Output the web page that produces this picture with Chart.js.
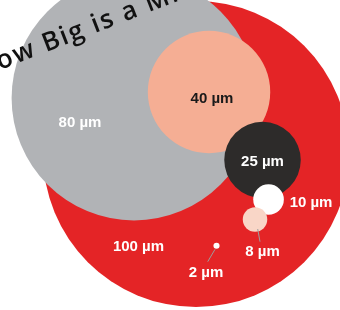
<!DOCTYPE html>
<html>
<head>
<meta charset="utf-8">
<script src="https://cdn.jsdelivr.net/npm/chart.js@4"></script>
<style>
    body { margin: 0; background: #fff; }
    #wrap { width: 340px; height: 310px; position: relative; }
</style>
</head>
<body>
<div id="wrap"><canvas id="sizeChart"></canvas></div>
<script>
// sizes in micrometres, centres also in micrometres
const labels = ['100 µm', '80 µm', '40 µm', '25 µm', '10 µm', '8 µm', '2 µm'];
const sizes = [100, 80, 40, 25, 10, 8, 2];
const centreX = [64.05, 43.79, 68.30, 85.78, 87.75, 83.33, 70.75];
const centreY = [50.33, 32.03, 30.07, 52.29, 65.20, 71.73, 80.29];
const colors = ['#e42426', '#b1b3b6', '#f5ae94', '#2d2b2a', '#ffffff', '#f9d6c7', '#ffffff'];
const titleText = 'How Big is a Micron?';

// label placement relative to bubble centre (px)
const labelOffset = [[-57.5, 92], [-54, 24], [3, 6], [0, 1], [42.5, 2.5], [7.5, 31.5], [-10.5, 26.3]];
const labelColor = ['#fff', '#fff', '#1a1a1a', '#fff', '#fff', '#fff', '#fff'];
const leaders = { 5: [[2.7, 9.5], [5, 22.2]], 6: [[-1.5, 3.6], [-8.8, 16]] };

const points = sizes.map((s, i) => ({ x: centreX[i], y: centreY[i], r: 1 }));

const labelPlugin = {
    id: 'bubbleLabels',
    afterDatasetsDraw(chart) {
        const ctx = chart.ctx;
        const meta = chart.getDatasetMeta(0);
        ctx.save();
        ctx.strokeStyle = '#9d9d9d';
        ctx.lineWidth = 1;
        for (const k in leaders) {
            const el = meta.data[k];
            const [a, b] = leaders[k];
            ctx.beginPath();
            ctx.moveTo(el.x + a[0], el.y + a[1]);
            ctx.lineTo(el.x + b[0], el.y + b[1]);
            ctx.stroke();
        }
        ctx.font = 'bold 15px "Liberation Sans", Arial, sans-serif';
        ctx.textAlign = 'center';
        ctx.textBaseline = 'alphabetic';
        meta.data.forEach((el, i) => {
            ctx.fillStyle = labelColor[i];
            ctx.fillText(labels[i], el.x + labelOffset[i][0], el.y + labelOffset[i][1] + 5.4);
        });
        ctx.restore();
    },
    afterDraw(chart) {
        // tilted title, drawn letter by letter
        const ctx = chart.ctx;
        const ang = -21.2 * Math.PI / 180;
        const dx = Math.cos(ang), dy = Math.sin(ang);
        const spacing = 1.8;
        ctx.save();
        ctx.font = '600 26px "Open Sans", sans-serif';
        ctx.fillStyle = '#111';
        ctx.textBaseline = 'alphabetic';
        ctx.textAlign = 'left';
        const back = ctx.measureText('H').width + spacing;
        let px = 0 - back * dx, py = 70 - back * dy;
        for (const ch of titleText) {
            ctx.save();
            ctx.translate(px, py);
            ctx.rotate(ang);
            ctx.fillText(ch, 0, 0);
            ctx.restore();
            const w = ctx.measureText(ch).width + spacing;
            px += w * dx;
            py += w * dy;
        }
        ctx.restore();
    }
};

const chart = new Chart(document.getElementById('sizeChart'), {
    type: 'bubble',
    data: {
        datasets: [{
            data: points,
            backgroundColor: colors,
            borderWidth: 0,
            hoverBorderWidth: 0,
            clip: false
        }]
    },
    options: {
        responsive: true,
        maintainAspectRatio: false,
        animation: false,
        events: [],
        layout: { padding: 0, autoPadding: false },
        scales: {
            x: { type: 'linear', min: 0, max: 111.1, display: false },
            y: { type: 'linear', min: 0, max: 101.3, reverse: true, display: false }
        },
        plugins: {
            legend: { display: false },
            tooltip: { enabled: false }
        }
    },
    plugins: [labelPlugin]
});

// bubble radius = half the size, converted to pixels by the x scale
const sx = chart.scales.x;
const pxPerUnit = sx.getPixelForValue(1) - sx.getPixelForValue(0);
points.forEach((p, i) => { p.r = sizes[i] / 2 * pxPerUnit; });
chart.update('none');
</script>
</body>
</html>
